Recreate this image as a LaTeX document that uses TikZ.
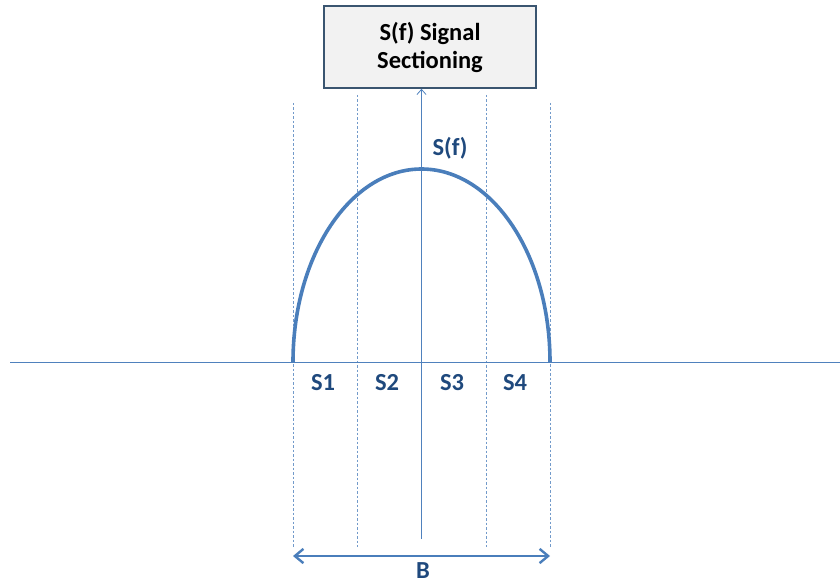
\documentclass[tikz,border=0pt]{standalone}
\usepackage{fontspec}
\setmainfont{Carlito}
\usetikzlibrary{arrows.meta}
\definecolor{axisblue}{HTML}{4F81BD}
\definecolor{curveblue}{HTML}{4A7EBB}
\definecolor{labelblue}{HTML}{1F497D}
\definecolor{boxedge}{HTML}{3A5570}
\definecolor{boxfill}{HTML}{F2F2F2}

\begin{document}
\begin{tikzpicture}[x=1pt,y=-1pt,
 titlebox/.style={draw=boxedge,fill=boxfill,line width=1.6pt,
   minimum width=212pt,minimum height=82pt,align=center,
   font=\fontsize{24.5}{28}\selectfont\bfseries},
 axis/.style={draw=axisblue,line width=0.8pt},
 divider/.style={draw=axisblue!80,line width=0.6pt,dash pattern=on 2.5pt off 2pt},
 spectrum/.style={draw=curveblue,line width=3.6pt},
 section/.style={text=labelblue,font=\fontsize{24.5}{28}\selectfont\bfseries,inner sep=0pt},
 bandwidth/.style={{Straight Barb[length=3mm,width=5mm]}-{Straight Barb[length=3mm,width=5mm]},
   draw=curveblue,line width=2.4pt}
]
\useasboundingbox (0,0) rectangle (840,585);
\node[titlebox] (title) at (430,47) {S(f) Signal\\Sectioning};
\coordinate (origin) at (421.5,362);
\coordinate (xstart) at (10,362);
\coordinate (xend) at (846,362);
\coordinate (vbottom) at (421.5,539);
\coordinate (vtop) at (title.south -| origin);
\coordinate (bleft) at (293,556);
\coordinate (bright) at (550,556);
% section borders
\foreach \xx/\yy in {293/103,357/95,486/95,550/103}
  \draw[divider] (\xx,\yy) -- (\xx,547);
% axes
\draw[axis,-{Straight Barb[length=1.8mm,width=3.2mm]}] (xstart) -- (xend);
\draw[axis,-{Straight Barb[length=1.8mm,width=3.2mm]}] (vbottom) -- (vtop);
% spectrum
\draw[spectrum] (293,362) arc[start angle=180,end angle=360,x radius=128.5,y radius=193];
\node[section] (sf) at (450,148) {S(f)};
\node[section] (s1) at (323,383) {S1};
\node[section] (s2) at (387,383) {S2};
\node[section] (s3) at (452,383) {S3};
\node[section] (s4) at (515,383) {S4};
% bandwidth
\draw[bandwidth] (bleft) -- (bright);
\node[section,anchor=north] (blabel) at (423,562) {B};
\end{tikzpicture}
\end{document}
